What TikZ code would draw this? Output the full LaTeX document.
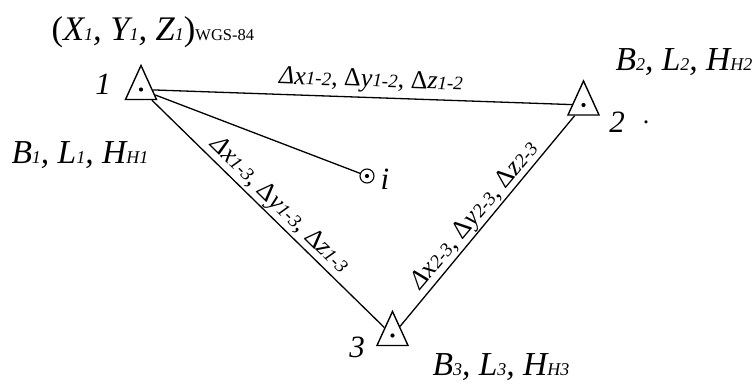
\documentclass[tikz,border=0pt]{standalone}
\usepackage{fontspec}
\setmainfont{Liberation Serif}
\usetikzlibrary{shapes.geometric}
\newcommand{\lowtxt}[1]{{\fontsize{18}{18}\selectfont #1}}
\newcommand{\difflow}[1]{{\fontsize{19}{19}\selectfont\itshape #1}}
\newcommand{\smalltxt}[1]{{\fontsize{16.5}{16.5}\selectfont #1}}
\newcommand{\dx}{\textit{Δx}}
\newcommand{\dy}{Δ\textit{y}}
\newcommand{\dz}{Δ\textit{z}}

\begin{document}
\begin{tikzpicture}[x=1pt,y=-1pt,
  station/.style={draw,line width=1.4pt,isosceles triangle,isosceles triangle apex angle=49,shape border rotate=90,inner sep=0pt,minimum height=33pt,minimum width=31pt},
  centerdot/.style={circle,fill=black,inner sep=0pt,minimum size=4.2pt},
  pointmark/.style={circle,draw,line width=1.1pt,inner sep=0pt,minimum size=14pt},
  side/.style={line width=1.3pt},
  num/.style={font=\fontsize{31}{31}\selectfont\itshape},
  coordtxt/.style={font=\fontsize{33.5}{33.5}\selectfont\itshape},
  difftxt/.style={font=\fontsize{26}{26}\selectfont}]
\useasboundingbox (0,0) rectangle (755,383);
% stations
\node[station] (st1) at (141,89.5) {};
\node[station] (st2) at (583.5,105) {};
\node[station] (st3) at (392.5,335.5) {};
\node[centerdot] (dot1) at (st1.center) {};
\node[centerdot] (dot2) at (st2.center) {};
\node[centerdot] (dot3) at (st3.center) {};
\node[pointmark] (pi) at (367,176) {};
\node[centerdot] (doti) at (pi) {};
% sides of the triangle
\draw[side] (st1) -- (st2);
\draw[side] (st1) -- (st3);
\draw[side] (st2) -- (st3);
\draw[side] (st1) -- (pi);
% numbers
\node[num] (n1) at (103,84) {1};
\node[num] (n2) at (617,122) {2};
\node[num] (n3) at (357,347) {3};
\node[num] (ni) at (385,179) {i};
\node[font=\fontsize{26}{26}\selectfont] (tick) at (646,122) {.};
% coordinates
\node[coordtxt,font=\fontsize{34.5}{34.5}\selectfont\itshape,anchor=west] (xyz) at (48,32) {\textup{(}X\lowtxt{1}, Y\lowtxt{1}, Z\lowtxt{1}\textup{)}\smalltxt{\textup{WGS-84}}};
\node[coordtxt,anchor=west] (blh1) at (8,155) {B\lowtxt{1}, L\lowtxt{1}, H\lowtxt{H1}};
\node[coordtxt,anchor=west] (blh2) at (612,62) {B\lowtxt{2}, L\lowtxt{2}, H\lowtxt{H2}};
\node[coordtxt,anchor=west] (blh3) at (429,367) {B\lowtxt{3}, L\lowtxt{3}, H\lowtxt{H3}};
% differences
\node[difftxt,rotate=-2] (d12) at (371,81) {\dx\difflow{1-2}, \dy\difflow{1-2}, \dz\difflow{1-2}};
\node[difftxt,rotate=-44.5] (d13) at (279,206) {\dx\difflow{1-3}, \dy\difflow{1-3}, \dz\difflow{1-3}};
\node[difftxt,rotate=50] (d23) at (475.5,216) {\dx\difflow{2-3}, \dy\difflow{2-3}, \dz\difflow{2-3}};
\end{tikzpicture}
\end{document}
